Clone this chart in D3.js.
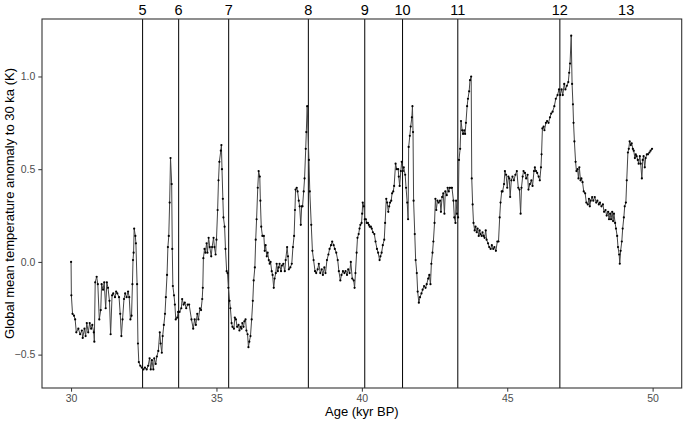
<!DOCTYPE html>
<html>
<head>
<meta charset="utf-8">
<script src="https://cdn.jsdelivr.net/npm/d3@7"></script>
<style>
  body { margin: 0; background: #fff; }
  text { font-family: Arial, "Liberation Sans", sans-serif; }
</style>
</head>
<body>
<svg width="685" height="423"></svg>
<script>
const svg = d3.select('svg');

const width = +svg.attr('width');
const height = +svg.attr('height');
const margin = { top: 19, right: 3.3, bottom: 35, left: 42 };
const innerWidth = width - margin.left - margin.right;
const innerHeight = height - margin.top - margin.bottom;

const xAxisLabel = 'Age (kyr BP)';
const yAxisLabel = 'Global mean temperature anomaly to 30 ka (K)';

const xTicks = [30, 35, 40, 45, 50];
const yTicks = [-0.5, 0.0, 0.5, 1.0];

// stadial/interstadial events
const eventLabels = ['5', '6', '7', '8', '9', '10', '11', '12', '13'];
const eventAges = [32.46, 33.70, 35.42, 38.16, 40.10, 41.40, 43.30, 46.81, 49.09];
const eventHasLine = [true, true, true, true, true, true, true, true, false];

// age (kyr BP)
const ages = [
  30.00, 30.01, 30.05, 30.10, 30.14, 30.18, 30.25, 30.31, 30.37, 30.40, 30.46, 30.50, 30.54, 30.59, 30.64, 30.69,
  30.73, 30.78, 30.80, 30.83, 30.88, 30.92, 30.97, 31.02, 31.05, 31.10, 31.14, 31.19, 31.23, 31.27, 31.32, 31.36,
  31.41, 31.45, 31.51, 31.55, 31.59, 31.65, 31.69, 31.73, 31.77, 31.82, 31.86, 31.91, 31.96, 32.00, 32.04, 32.08,
  32.11, 32.13, 32.15, 32.17, 32.21, 32.23, 32.27, 32.30, 32.33, 32.38, 32.43, 32.49, 32.54, 32.60, 32.65, 32.70,
  32.74, 32.78, 32.83, 32.86, 32.91, 32.95, 33.00, 33.05, 33.08, 33.12, 33.15, 33.19, 33.23, 33.26, 33.30, 33.33,
  33.36, 33.39, 33.42, 33.46, 33.48, 33.50, 33.54, 33.57, 33.60, 33.65, 33.68, 33.73, 33.79, 33.82, 33.87, 33.91,
  33.96, 34.01, 34.06, 34.14, 34.20, 34.25, 34.29, 34.34, 34.38, 34.43, 34.47, 34.51, 34.53, 34.55, 34.59, 34.62,
  34.66, 34.69, 34.73, 34.77, 34.82, 34.85, 34.90, 34.93, 34.97, 35.00, 35.04, 35.07, 35.10, 35.15, 35.17, 35.19,
  35.22, 35.24, 35.28, 35.31, 35.35, 35.38, 35.41, 35.45, 35.48, 35.52, 35.55, 35.60, 35.63, 35.67, 35.71, 35.76,
  35.79, 35.83, 35.86, 35.89, 35.93, 35.96, 36.00, 36.03, 36.07, 36.10, 36.13, 36.17, 36.21, 36.25, 36.28, 36.32,
  36.35, 36.38, 36.42, 36.45, 36.49, 36.51, 36.54, 36.58, 36.63, 36.66, 36.69, 36.73, 36.76, 36.80, 36.83, 36.86,
  36.90, 36.93, 36.97, 37.00, 37.04, 37.07, 37.11, 37.14, 37.17, 37.22, 37.25, 37.30, 37.35, 37.38, 37.43, 37.46,
  37.49, 37.54, 37.59, 37.63, 37.67, 37.70, 37.72, 37.76, 37.79, 37.83, 37.86, 37.90, 37.93, 37.96, 38.00, 38.03,
  38.07, 38.09, 38.12, 38.18, 38.21, 38.26, 38.30, 38.34, 38.39, 38.43, 38.48, 38.52, 38.57, 38.62, 38.66, 38.71,
  38.75, 38.80, 38.85, 38.89, 38.94, 38.98, 39.03, 39.07, 39.12, 39.17, 39.21, 39.26, 39.30, 39.35, 39.40, 39.44,
  39.49, 39.53, 39.58, 39.62, 39.67, 39.72, 39.75, 39.78, 39.82, 39.85, 39.89, 39.92, 39.95, 39.99, 40.01, 40.03,
  40.07, 40.10, 40.14, 40.17, 40.21, 40.24, 40.27, 40.31, 40.34, 40.38, 40.43, 40.47, 40.52, 40.56, 40.61, 40.64,
  40.68, 40.72, 40.77, 40.80, 40.84, 40.87, 40.91, 40.94, 40.97, 41.01, 41.04, 41.08, 41.11, 41.16, 41.20, 41.25,
  41.27, 41.30, 41.34, 41.37, 41.41, 41.44, 41.49, 41.52, 41.56, 41.59, 41.61, 41.65, 41.68, 41.72, 41.74, 41.76,
  41.78, 41.82, 41.85, 41.89, 41.92, 41.96, 42.00, 42.05, 42.09, 42.14, 42.19, 42.23, 42.28, 42.32, 42.36, 42.39,
  42.43, 42.46, 42.50, 42.53, 42.56, 42.60, 42.64, 42.69, 42.72, 42.76, 42.80, 42.84, 42.87, 42.92, 42.95, 42.99,
  43.02, 43.07, 43.10, 43.15, 43.18, 43.22, 43.24, 43.27, 43.31, 43.34, 43.38, 43.41, 43.45, 43.48, 43.52, 43.55,
  43.58, 43.62, 43.65, 43.69, 43.72, 43.76, 43.78, 43.81, 43.84, 43.88, 43.91, 43.95, 43.98, 44.02, 44.05, 44.08,
  44.12, 44.15, 44.19, 44.22, 44.26, 44.29, 44.34, 44.38, 44.43, 44.47, 44.52, 44.56, 44.61, 44.66, 44.70, 44.74,
  44.77, 44.81, 44.84, 44.89, 44.92, 44.96, 45.00, 45.04, 45.07, 45.10, 45.14, 45.18, 45.23, 45.28, 45.33, 45.38,
  45.42, 45.46, 45.49, 45.53, 45.56, 45.61, 45.65, 45.70, 45.73, 45.78, 45.83, 45.87, 45.92, 45.95, 45.99, 46.03,
  46.08, 46.12, 46.16, 46.18, 46.21, 46.25, 46.28, 46.33, 46.37, 46.42, 46.47, 46.51, 46.56, 46.62, 46.67, 46.73,
  46.78, 46.82, 46.87, 46.91, 46.96, 47.00, 47.05, 47.10, 47.13, 47.16, 47.20, 47.23, 47.26, 47.28, 47.31, 47.35,
  47.38, 47.42, 47.45, 47.48, 47.52, 47.55, 47.59, 47.63, 47.68, 47.72, 47.77, 47.81, 47.84, 47.87, 47.92, 47.96,
  48.01, 48.06, 48.10, 48.15, 48.19, 48.24, 48.29, 48.33, 48.38, 48.42, 48.47, 48.50, 48.54, 48.57, 48.61, 48.64,
  48.67, 48.71, 48.74, 48.78, 48.81, 48.85, 48.87, 48.90, 48.94, 48.97, 49.01, 49.04, 49.08, 49.11, 49.15, 49.18,
  49.21, 49.25, 49.28, 49.32, 49.35, 49.39, 49.42, 49.45, 49.49, 49.52, 49.56, 49.59, 49.63, 49.66, 49.69, 49.73,
  49.76, 49.80, 49.84, 49.89, 49.93, 49.98
];

// global mean temperature anomaly to 30 ka (K)
const anomalies = [
  0.00, -0.18, -0.28, -0.29, -0.31, -0.38, -0.36, -0.39, -0.37, -0.41, -0.36, -0.40, -0.33, -0.38, -0.33, -0.36,
  -0.34, -0.38, -0.43, -0.11, -0.08, -0.12, -0.31, -0.26, -0.12, -0.15, -0.11, -0.25, -0.11, -0.14, -0.21, -0.39,
  -0.18, -0.17, -0.19, -0.16, -0.17, -0.19, -0.28, -0.40, -0.31, -0.20, -0.17, -0.19, -0.16, -0.19, -0.31, -0.29,
  -0.12, 0.01, 0.05, 0.18, 0.14, 0.10, -0.12, -0.44, -0.54, -0.56, -0.57, -0.58, -0.57, -0.58, -0.56, -0.52,
  -0.58, -0.53, -0.58, -0.52, -0.55, -0.51, -0.48, -0.38, -0.44, -0.49, -0.40, -0.34, -0.28, -0.19, -0.07, 0.08,
  0.14, 0.32, 0.56, 0.42, 0.07, -0.13, -0.18, -0.23, -0.31, -0.30, -0.27, -0.27, -0.25, -0.20, -0.23, -0.22,
  -0.25, -0.23, -0.23, -0.31, -0.36, -0.31, -0.34, -0.28, -0.31, -0.25, -0.26, -0.20, -0.14, 0.02, 0.07, 0.05,
  0.10, 0.05, 0.13, 0.08, 0.03, 0.08, 0.13, 0.08, 0.04, 0.12, 0.28, 0.44, 0.54, 0.60, 0.63, 0.50,
  0.34, 0.24, 0.19, 0.07, -0.05, -0.06, -0.14, -0.21, -0.25, -0.33, -0.35, -0.36, -0.30, -0.31, -0.35, -0.34,
  -0.37, -0.35, -0.36, -0.33, -0.35, -0.32, -0.31, -0.37, -0.39, -0.46, -0.43, -0.40, -0.31, -0.21, -0.10, -0.03,
  0.12, 0.23, 0.40, 0.49, 0.46, 0.33, 0.19, 0.14, 0.14, 0.06, 0.09, 0.03, 0.05, 0.01, -0.01, 0.00,
  -0.05, -0.07, -0.14, -0.09, -0.06, -0.01, -0.05, -0.03, -0.01, -0.05, -0.02, -0.01, -0.05, 0.01, 0.08, 0.03,
  -0.04, -0.03, -0.01, 0.08, 0.14, 0.28, 0.39, 0.40, 0.38, 0.33, 0.30, 0.20, 0.30, 0.30, 0.38, 0.45,
  0.61, 0.70, 0.84, 0.55, 0.38, 0.20, 0.06, 0.01, -0.05, -0.06, -0.04, -0.01, -0.06, -0.04, -0.07, -0.03,
  -0.06, 0.01, 0.04, 0.07, 0.09, 0.11, 0.09, 0.07, 0.05, 0.01, -0.05, -0.10, -0.07, -0.05, -0.06, -0.05,
  -0.07, -0.04, -0.06, 0.00, -0.09, -0.10, -0.14, -0.06, 0.05, 0.13, 0.15, 0.18, 0.20, 0.21, 0.26, 0.32,
  0.30, 0.23, 0.23, 0.21, 0.21, 0.20, 0.19, 0.19, 0.18, 0.16, 0.15, 0.11, 0.07, 0.05, 0.01, 0.03,
  0.05, 0.09, 0.12, 0.21, 0.34, 0.32, 0.27, 0.30, 0.32, 0.33, 0.37, 0.38, 0.41, 0.53, 0.50, 0.50,
  0.46, 0.41, 0.49, 0.54, 0.49, 0.51, 0.47, 0.40, 0.32, 0.23, 0.62, 0.68, 0.73, 0.78, 0.84, 0.70,
  0.33, 0.15, 0.01, -0.06, -0.16, -0.22, -0.19, -0.17, -0.15, -0.13, -0.14, -0.12, -0.09, -0.07, -0.12, -0.01,
  0.05, 0.11, 0.21, 0.34, 0.28, 0.33, 0.32, 0.33, 0.27, 0.35, 0.37, 0.26, 0.38, 0.36, 0.40, 0.38,
  0.40, 0.40, 0.40, 0.33, 0.24, 0.21, 0.33, 0.26, 0.24, 0.55, 0.61, 0.76, 0.71, 0.69, 0.71, 0.69,
  0.75, 0.84, 0.88, 0.92, 0.98, 1.00, 0.45, 0.31, 0.21, 0.17, 0.19, 0.16, 0.18, 0.14, 0.17, 0.15,
  0.14, 0.16, 0.14, 0.13, 0.17, 0.12, 0.10, 0.08, 0.07, 0.09, 0.07, 0.08, 0.06, 0.11, 0.11, 0.24,
  0.32, 0.38, 0.38, 0.42, 0.49, 0.47, 0.40, 0.46, 0.45, 0.35, 0.44, 0.46, 0.44, 0.47, 0.49, 0.40,
  0.39, 0.26, 0.40, 0.46, 0.49, 0.48, 0.45, 0.47, 0.39, 0.42, 0.44, 0.41, 0.49, 0.51, 0.49, 0.48,
  0.46, 0.44, 0.51, 0.58, 0.72, 0.73, 0.71, 0.75, 0.76, 0.75, 0.78, 0.80, 0.81, 0.84, 0.88, 0.90,
  0.93, 0.90, 0.93, 0.90, 0.96, 0.93, 0.95, 0.97, 1.02, 1.07, 1.22, 0.96, 0.85, 0.75, 0.65, 0.54,
  0.49, 0.50, 0.45, 0.51, 0.44, 0.45, 0.43, 0.38, 0.37, 0.32, 0.31, 0.34, 0.30, 0.33, 0.35, 0.33,
  0.35, 0.32, 0.33, 0.31, 0.32, 0.30, 0.31, 0.27, 0.28, 0.25, 0.27, 0.23, 0.26, 0.23, 0.27, 0.22,
  0.26, 0.21, 0.18, 0.14, 0.08, 0.04, -0.01, 0.06, 0.11, 0.18, 0.24, 0.30, 0.32, 0.44, 0.59, 0.61,
  0.65, 0.63, 0.64, 0.61, 0.60, 0.56, 0.58, 0.57, 0.55, 0.53, 0.57, 0.53, 0.45, 0.55, 0.57, 0.51,
  0.56, 0.58, 0.58, 0.59, 0.60, 0.61
];

const data = ages.map((a, i) => ({ age: a, value: anomalies[i] }));

const x_value = d => d.age;
const y_value = d => d.value;

// value range for x axis (ggplot-like 5% expansion)
const x_scale = d3.scaleLinear()
  .domain([29, 51])
  .range([0, innerWidth]);

// value range for y axis
const y_scale = d3.scaleLinear()
  .domain([-0.68, 1.31])
  .range([innerHeight, 0]);

const g = svg.append('g')
  .attr('transform', `translate(${margin.left},${margin.top})`);

// x axis
const x_axis_g = g.append('g')
  .attr('transform', `translate(0,${innerHeight})`)
  .call(d3.axisBottom(x_scale).tickValues(xTicks).tickSize(3.7).tickPadding(3));

// y axis
const y_axis_g = g.append('g')
  .call(d3.axisLeft(y_scale).tickValues(yTicks).tickFormat(d3.format('.1f')).tickSize(3.7).tickPadding(3));

[x_axis_g, y_axis_g].forEach(ax => {
  ax.select('.domain').remove();
  ax.selectAll('.tick line').attr('stroke', '#333').attr('stroke-width', 1);
  ax.selectAll('.tick text')
    .attr('fill', '#4d4d4d')
    .style('font-size', '10.5px')
    .style('font-family', 'Arial, "Liberation Sans", sans-serif');
});

// vertical event lines
g.selectAll('.event-line')
  .data(eventAges.filter((a, i) => eventHasLine[i]))
  .enter()
  .append('line')
  .attr('class', 'event-line')
  .attr('x1', d => x_scale(d))
  .attr('x2', d => x_scale(d))
  .attr('y1', 0)
  .attr('y2', innerHeight)
  .attr('stroke', '#000')
  .attr('stroke-width', 1);

// the series line
const line_creator = d3.line()
  .x(d => x_scale(x_value(d)))
  .y(d => y_scale(y_value(d)));

g.append('path')
  .datum(data)
  .attr('d', line_creator)
  .attr('fill', 'none')
  .attr('stroke', '#444')
  .attr('stroke-width', 1);

g.selectAll('.pt')
  .data(data)
  .enter()
  .append('circle')
  .attr('class', 'pt')
  .attr('cx', d => x_scale(x_value(d)))
  .attr('cy', d => y_scale(y_value(d)))
  .attr('r', 1.1)
  .attr('fill', '#000');

// panel border
g.append('rect')
  .attr('width', innerWidth)
  .attr('height', innerHeight)
  .attr('fill', 'none')
  .attr('stroke', '#333')
  .attr('stroke-width', 1.1);

// event labels above the panel
svg.selectAll('.event-label')
  .data(eventAges)
  .enter()
  .append('text')
  .attr('class', 'event-label')
  .attr('x', d => margin.left + x_scale(d))
  .attr('y', 15)
  .attr('text-anchor', 'middle')
  .style('font-size', '14.5px')
  .attr('fill', '#000')
  .text((d, i) => eventLabels[i]);

// axis titles
svg.append('text')
  .attr('x', margin.left + innerWidth / 2)
  .attr('y', 416)
  .attr('text-anchor', 'middle')
  .style('font-size', '13px')
  .attr('fill', '#000')
  .text(xAxisLabel);

svg.append('text')
  .attr('transform', 'rotate(-90)')
  .attr('x', -(margin.top + innerHeight / 2))
  .attr('y', 14)
  .attr('text-anchor', 'middle')
  .style('font-size', '13px')
  .attr('fill', '#000')
  .text(yAxisLabel);
</script>
</body>
</html>
